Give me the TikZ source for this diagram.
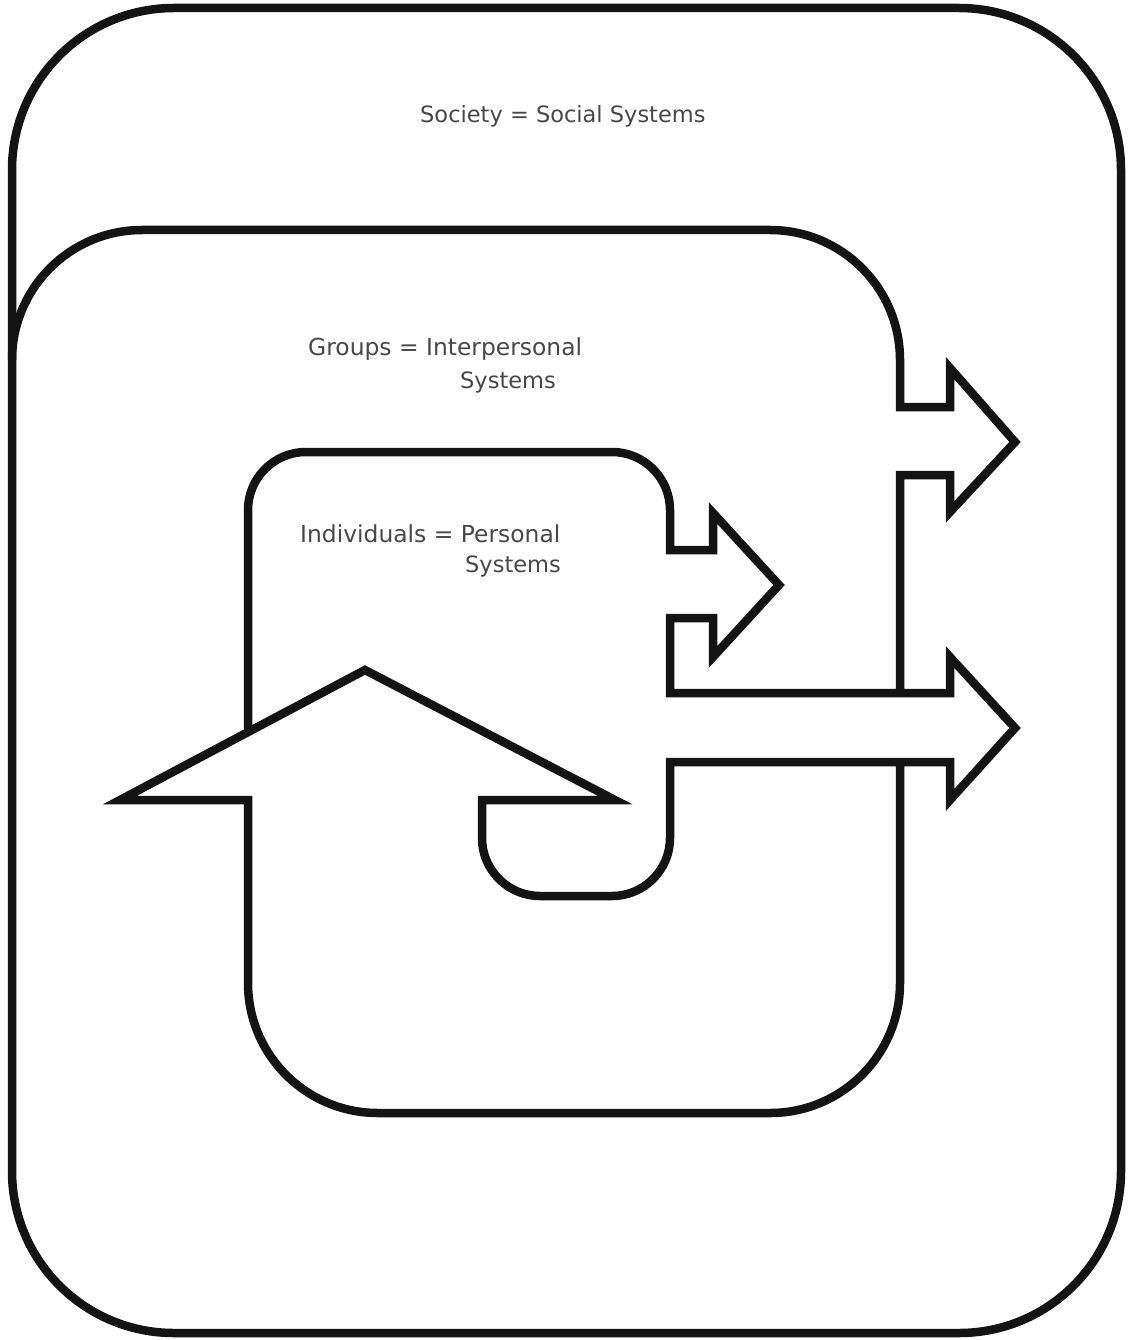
\documentclass[tikz,border=0pt]{standalone}
\usepackage{fontspec}
\setmainfont{DejaVu Sans}
\begin{document}
\begin{tikzpicture}[x=1pt,y=-1pt,
  outline/.style={draw=black!92, line width=8.5pt, line join=miter},
  lbl/.style={text=black!72, font=\fontsize{22.5}{27}\selectfont, inner sep=0pt, anchor=base west},
  lblb/.style={lbl, font=\fontsize{23.4}{28}\selectfont}]
\useasboundingbox (0,0) rectangle (1130,1340);
% Society
\draw[outline, rounded corners=162pt] (12,8) rectangle (1121,1333);
% Groups
\draw[outline] (12,360) arc[start angle=180,end angle=270,radius=130] -- (770,230)
  arc[start angle=270,end angle=360,radius=130] -- (900,407) -- (950,407) -- (950,368)
  -- (1015,442) -- (950,512) -- (950,475) -- (900,475) -- (900,693);
% Individuals and loop
\draw[outline] (248,732) -- (248,510) arc[start angle=180,end angle=270,radius=58]
  -- (612,452) arc[start angle=270,end angle=360,radius=58]
  -- (670,550) -- (713,550) -- (713,513) -- (779,585) -- (713,657) -- (713,618)
  -- (670,618) -- (670,693) -- (950,693) -- (950,657) -- (1015,728) -- (950,800)
  -- (950,762) -- (670,762) -- (670,838) arc[start angle=0,end angle=90,radius=58]
  -- (540,896) arc[start angle=90,end angle=180,radius=58]
  -- (482,800) -- (615,800) -- (365,670) -- (120,800) -- (248,800) -- (248,983)
  arc[start angle=180,end angle=90,radius=130] -- (770,1113)
  arc[start angle=90,end angle=0,radius=130] -- (900,762);
% Labels
\node[lbl] (soc) at (420,123) {Society = Social Systems};
\node[lblb] (grp1) at (308,355) {Groups = Interpersonal};
\node[lbl] (grp2) at (460,388) {Systems};
\node[lblb] (ind1) at (300,542) {Individuals = Personal};
\node[lbl] (ind2) at (465,572) {Systems};
\end{tikzpicture}
\end{document}
